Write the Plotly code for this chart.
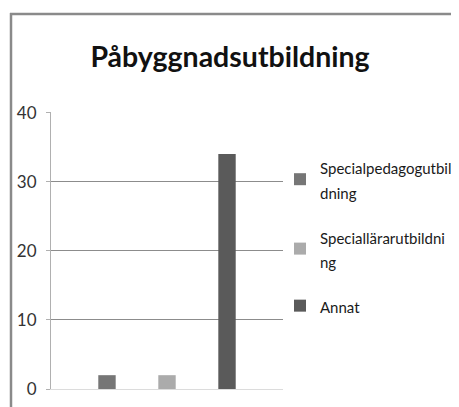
import plotly.graph_objects as go

title_text = "Påbyggnadsutbildning"
category = ["Påbyggnadsutbildning"]
series_names = ["Specialpedagogutbil<br>dning", "Speciallärarutbildni<br>ng", "Annat"]
series_values = [2, 2, 34]
series_colors = ["#767676", "#ababab", "#5a5a5a"]
y_ticks = [0, 10, 20, 30, 40]

FONT = "Lato, Liberation Sans, sans-serif"

fig = go.Figure()
for i, (name, val, col) in enumerate(zip(series_names, series_values, series_colors)):
    fig.add_trace(go.Bar(x=category, y=[val], name='<span style="font-size:15px">' + name + '</span>',
                         legendgroup="g%d" % i,
                         marker=dict(color=col, line=dict(width=0))))

# page is offset by the browser's 8px body margin
OFF = 8
W, H = 459 - OFF, 407 - OFF
ml, mr, mt, mb = 51 - OFF, W - (283 - OFF), 112 - OFF, H - (389 - OFF)
pw, ph = W - ml - mr, H - mt - mb

def px_x(x):
    return (x - OFF - ml) / pw

def px_y(y):
    return (H - mb - (y - OFF)) / ph

fig.update_layout(
    width=W, height=H,
    margin=dict(l=ml, r=mr, t=mt, b=mb, autoexpand=False),
    paper_bgcolor="white", plot_bgcolor="white",
    barmode="group", bargap=0.224, bargroupgap=0.71,
    font=dict(family=FONT, color="#1a1a1a", size=15),
    title=dict(text="<b>" + title_text + "</b>", x=(230 - OFF) / W, xanchor="center",
               y=1 - (57 - OFF) / H, yanchor="middle",
               font=dict(family=FONT, size=28.5, color="#111111")),
    showlegend=True,
    legend=dict(x=px_x(280), xanchor="left", y=px_y(148), yanchor="top",
                font=dict(family=FONT, size=19, color="#1a1a1a"),
                bgcolor="rgba(0,0,0,0)", tracegroupgap=17, itemwidth=30),
    xaxis=dict(showticklabels=False, showgrid=False, showline=True, linecolor="#dcdcdc", linewidth=1, ticks=""),
    yaxis=dict(range=[0, 40.08], tickvals=y_ticks, showgrid=True, gridcolor="#8c8c8c", gridwidth=1,
               zeroline=False, showline=True, linecolor="#b0b0b0", linewidth=1,
               ticks="outside", ticklen=4, tickcolor="#b0b0b0", ticklabelstandoff=6,
               tickfont=dict(family=FONT, size=17, color="#333333")),
    shapes=[
        dict(type="line", xref="paper", yref="paper", x0=px_x(10), x1=px_x(470), y0=px_y(14), y1=px_y(14),
             line=dict(color="#8a8a8a", width=2.5)),
        dict(type="line", xref="paper", yref="paper", x0=px_x(11), x1=px_x(11), y0=px_y(13), y1=px_y(420),
             line=dict(color="#8a8a8a", width=2.5)),
    ],
)

fig.write_html("out.html")
